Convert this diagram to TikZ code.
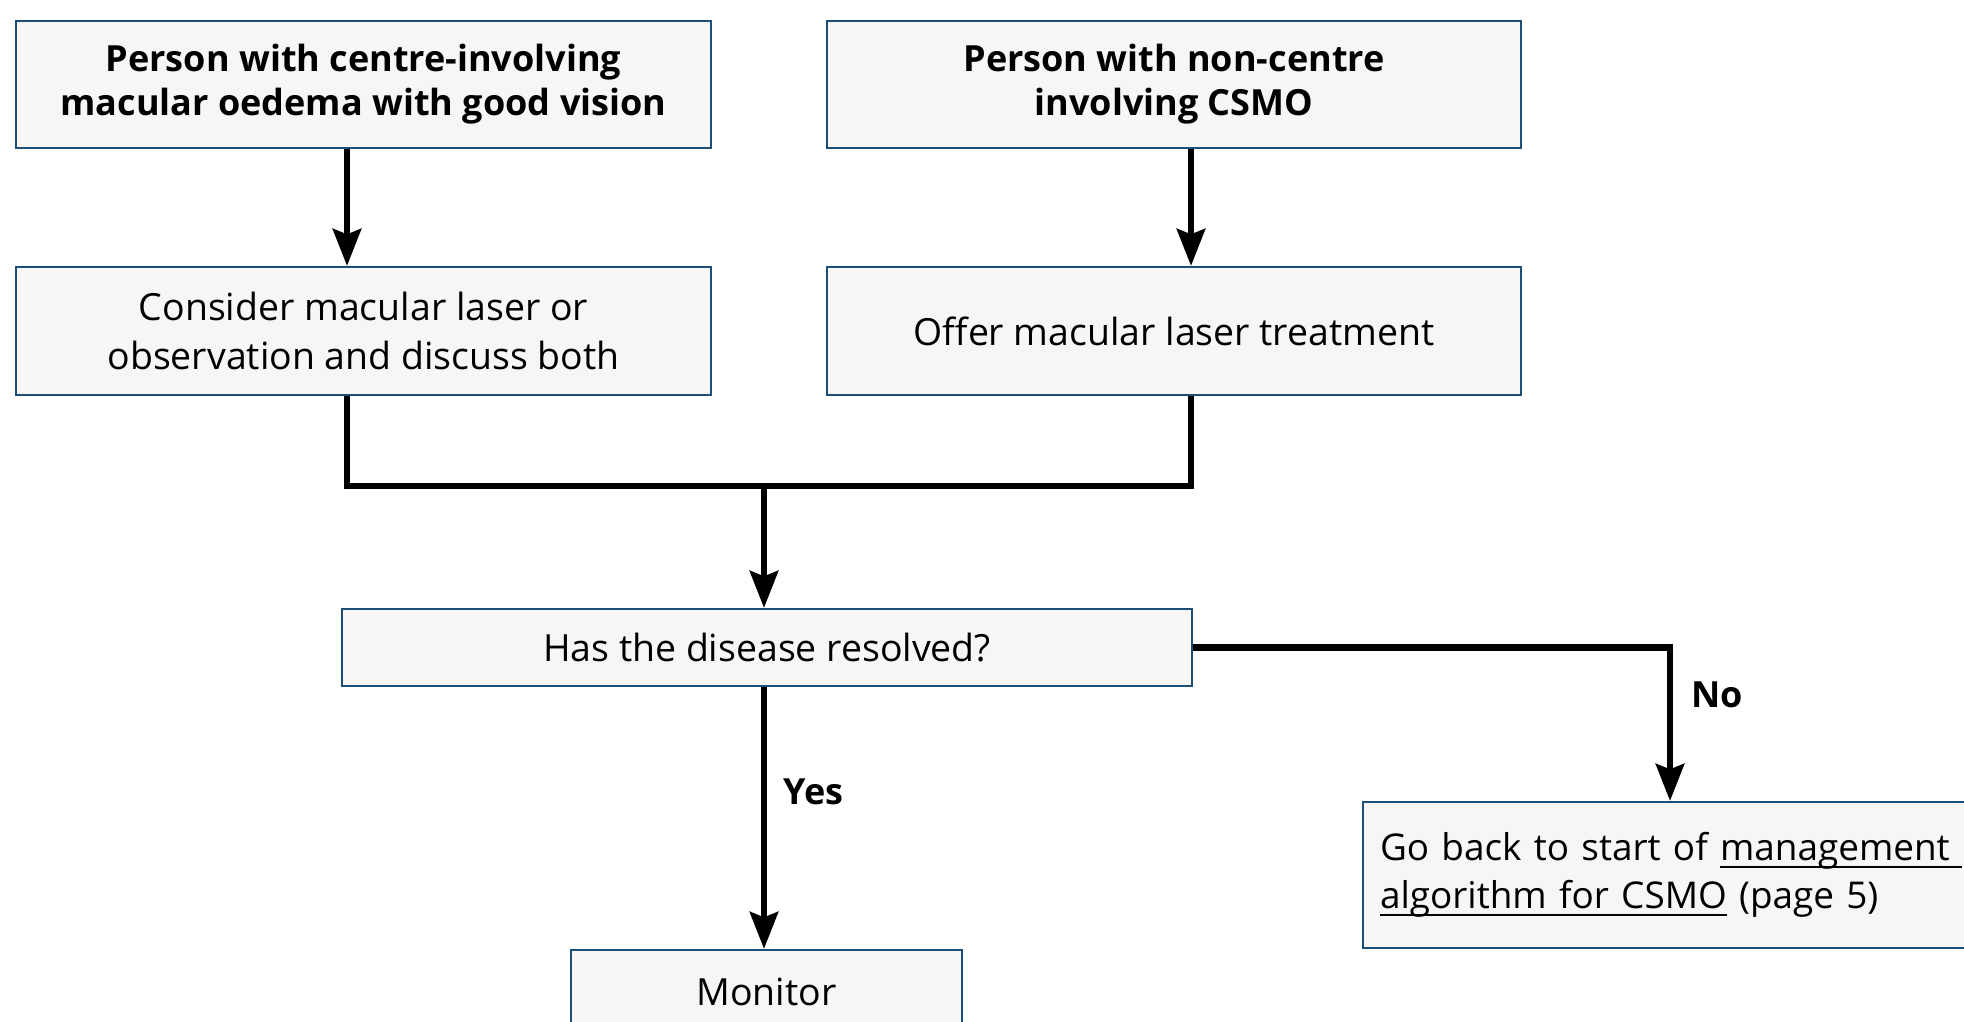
\documentclass[tikz,border=0pt]{standalone}
\usepackage{fontspec}
\setmainfont{Open Sans}
\usetikzlibrary{arrows.meta}
\definecolor{boxfill}{RGB}{247,246,244}
\definecolor{boxline}{RGB}{28,78,118}
\newcommand{\myul}[1]{\leavevmode\setbox0\hbox{#1}\rlap{\rule[-4pt]{\wd0}{1.1pt}}\box0}
\tikzset{
  box/.style={draw=boxline, line width=1.2pt, fill=boxfill, rectangle, inner sep=0pt, align=center,
    font=\fontsize{21.3pt}{27.5pt}\selectfont},
  boldbox/.style={box, font=\fontsize{20.5pt}{25pt}\selectfont\bfseries},
  flow/.style={line width=3.8pt, line cap=butt},
  arr/.style={flow, -{Stealth[length=21pt, width=16pt, inset=3pt]}},
  lbl/.style={font=\fontsize{20.5pt}{22pt}\selectfont\bfseries, anchor=west, inner sep=0pt}
}
\begin{document}
\begin{tikzpicture}[x=0.02cm, y=-0.02cm]
\clip (0,0) rectangle (1964,1021);
\fill[white] (0,0) rectangle (1964,1021);
\node[boldbox, minimum width=13.9cm, minimum height=2.54cm] (A) at (363.5,84.5)
  {Person with centre-involving\\macular oedema with good vision};
\node[boldbox, minimum width=13.88cm, minimum height=2.54cm] (B) at (1174,84.5)
  {Person with non-centre\\involving CSMO};
\node[box, minimum width=13.9cm, minimum height=2.56cm] (C) at (363.5,331)
  {Consider macular laser or\\observation and discuss both};
\node[box, minimum width=13.88cm, minimum height=2.56cm] (D) at (1174,331)
  {Offer macular laser treatment};
\node[box, minimum width=17cm, minimum height=1.54cm] (E) at (767,647.5)
  {Has the disease resolved?};
\node[box, minimum width=7.82cm, minimum height=1.68cm] (F) at (766.5,992)
  {Monitor};
\node[box, font=\fontsize{21pt}{27.5pt}\selectfont, anchor=west, inner xsep=0.34cm, inner ysep=0pt,
  text width=13cm, align=left, minimum height=2.92cm] (G) at (1362,875)
  {Go back to start of \myul{management }\\\myul{algorithm for CSMO}\ (page 5)};
\coordinate (xa) at (347,0);
\coordinate (xd) at (1191,0);
\coordinate (m) at (764,486);
\coordinate (xg) at (1670,0);
\draw[arr] (A.south -| xa) -- (C.north -| xa);
\draw[arr] (B.south -| xd) -- (D.north -| xd);
\draw[flow, line join=miter] (C.south -| xa) |- (m) -| (D.south -| xd);
\draw[arr] (m) -- (E.north -| m);
\draw[arr] (E.south -| m) -- (F.north -| m);
\draw[arr, line join=miter] (E.east) -| (G.north -| xg);
\node[lbl] (yes) at (783,792) {Yes};
\node[lbl] (no) at (1691,695) {No};
\end{tikzpicture}
\end{document}
